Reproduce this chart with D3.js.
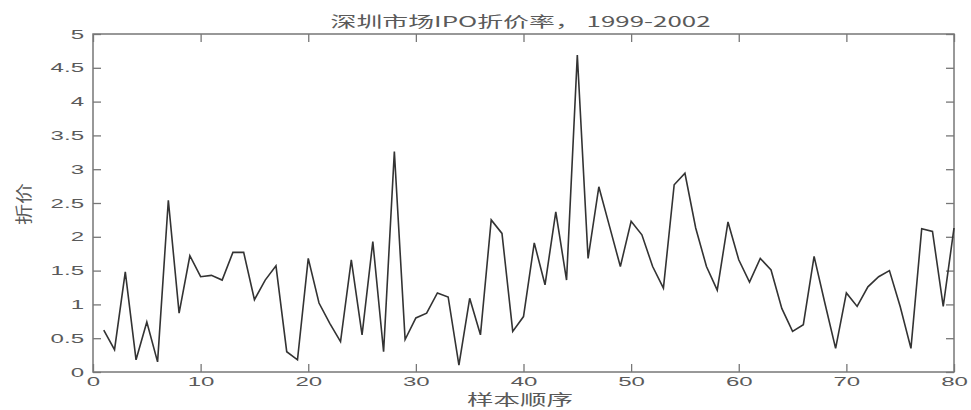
<!DOCTYPE html>
<html>
<head>
<meta charset="utf-8">
<script src="https://cdn.jsdelivr.net/npm/d3@7"></script>
<style>
   body { margin: 0; background: #fff; }
   .tick-text { font-family: "Liberation Sans", Arial, sans-serif; font-size: 13px; fill: #5a5a5a; }
   .cn-text { font-family: "Noto Sans CJK SC", sans-serif; fill: #5a5a5a; }
   .frame { fill: none; stroke: #777; stroke-width: 1.5; }
   .rate-line { fill: none; stroke: #333; stroke-width: 1.6; stroke-linejoin: miter; }
</style>
</head>
<body>
<svg id="chart" width="971" height="410"></svg>
<script>
// chart text
var titleText = "深圳市场IPO折价率， 1999-2002";
var xLabelText = "样本顺序";
var yLabelText = "折价";

// axis ticks
var xTicks = [0, 10, 20, 30, 40, 50, 60, 70, 80];
var yTicks = [0, 0.5, 1, 1.5, 2, 2.5, 3, 3.5, 4, 4.5, 5];
var xDomain = [0, 80];
var yDomain = [0, 5];

// sample order 1..80 and the discount rate
var sampleIdx = d3.range(1, 81);
var discountRate = [
   0.62, 0.33, 1.48, 0.18, 0.74, 0.15, 2.54, 0.87, 1.72, 1.41,
   1.43, 1.36, 1.77, 1.77, 1.07, 1.36, 1.57, 0.30, 0.18, 1.68,
   1.02, 0.72, 0.45, 1.66, 0.55, 1.93, 0.30, 3.26, 0.48, 0.80,
   0.87, 1.17, 1.11, 0.10, 1.09, 0.55, 2.25, 2.05, 0.60, 0.82,
   1.91, 1.29, 2.37, 1.36, 4.69, 1.68, 2.74, 2.15, 1.56, 2.23,
   2.03, 1.56, 1.24, 2.77, 2.94, 2.13, 1.56, 1.21, 2.22, 1.66,
   1.33, 1.68, 1.51, 0.94, 0.60, 0.70, 1.71, 1.02, 0.35, 1.17,
   0.97, 1.26, 1.41, 1.50, 0.97, 0.35, 2.12, 2.08, 0.97, 2.13
];

var plotLeft = 93, plotRight = 954, plotTop = 34, plotBottom = 372;
var stretch = 1.85;   // text in the picture is drawn wide
var tickLen = 8;

var svg = d3.select("#chart");

var x = d3.scaleLinear().domain(xDomain).range([plotLeft, plotRight]);
var y = d3.scaleLinear().domain(yDomain).range([plotBottom, plotTop]);

//box round the plot area
svg.append("rect")
   .attr("x", plotLeft).attr("y", plotTop)
   .attr("width", plotRight - plotLeft).attr("height", plotBottom - plotTop)
   .attr("class", "frame");

function styleAxis(g){
   g.select(".domain").remove();
   g.selectAll(".tick line").attr("stroke", "#777").attr("stroke-width", 1.3);
}

//bottom axis with labels, ticks pointing in
var xAxis = svg.append("g")
   .attr("transform", "translate(0," + plotBottom + ")")
   .call(d3.axisBottom(x).tickValues(xTicks).tickSize(-tickLen).tickFormat(d3.format("d")));
styleAxis(xAxis);
xAxis.selectAll(".tick text")
   .attr("class", "tick-text")
   .attr("y", 5)
   .attr("x", 0)
   .attr("transform", "scale(" + stretch + ",1)");

//top axis, ticks only
var xTop = svg.append("g")
   .attr("transform", "translate(0," + plotTop + ")")
   .call(d3.axisTop(x).tickValues(xTicks).tickSize(-tickLen).tickFormat(""));
styleAxis(xTop);

//left axis with labels
var yAxis = svg.append("g")
   .attr("transform", "translate(" + plotLeft + ",0)")
   .call(d3.axisLeft(y).tickValues(yTicks).tickSize(-tickLen).tickFormat(d3.format("")));
styleAxis(yAxis);
yAxis.selectAll(".tick text")
   .attr("class", "tick-text")
   .attr("x", -9 / stretch)
   .attr("transform", "scale(" + stretch + ",1)");

//right axis, ticks only
var yRight = svg.append("g")
   .attr("transform", "translate(" + plotRight + ",0)")
   .call(d3.axisRight(y).tickValues(yTicks).tickSize(-tickLen).tickFormat(""));
styleAxis(yRight);

//the discount rate line
var line = d3.line()
   .x(function(d, i){ return x(sampleIdx[i]); })
   .y(function(d){ return y(d); });

svg.append("path")
   .datum(discountRate)
   .attr("class", "rate-line")
   .attr("d", line);

//title and axis labels
svg.append("text")
   .attr("class", "cn-text")
   .attr("x", (plotLeft + plotRight) / 2 - 3)
   .attr("y", 27)
   .attr("text-anchor", "middle")
   .attr("font-size", 15)
   .attr("textLength", 380)
   .attr("lengthAdjust", "spacingAndGlyphs")
   .text(titleText);

svg.append("text")
   .attr("class", "cn-text")
   .attr("x", 520)
   .attr("y", 405)
   .attr("text-anchor", "middle")
   .attr("font-size", 15)
   .attr("textLength", 106)
   .attr("lengthAdjust", "spacingAndGlyphs")
   .text(xLabelText);

svg.append("text")
   .attr("class", "cn-text")
   .attr("transform", "translate(30,204) rotate(-90)")
   .attr("text-anchor", "middle")
   .attr("font-size", 17)
   .attr("textLength", 42)
   .attr("lengthAdjust", "spacingAndGlyphs")
   .text(yLabelText);
</script>
</body>
</html>
